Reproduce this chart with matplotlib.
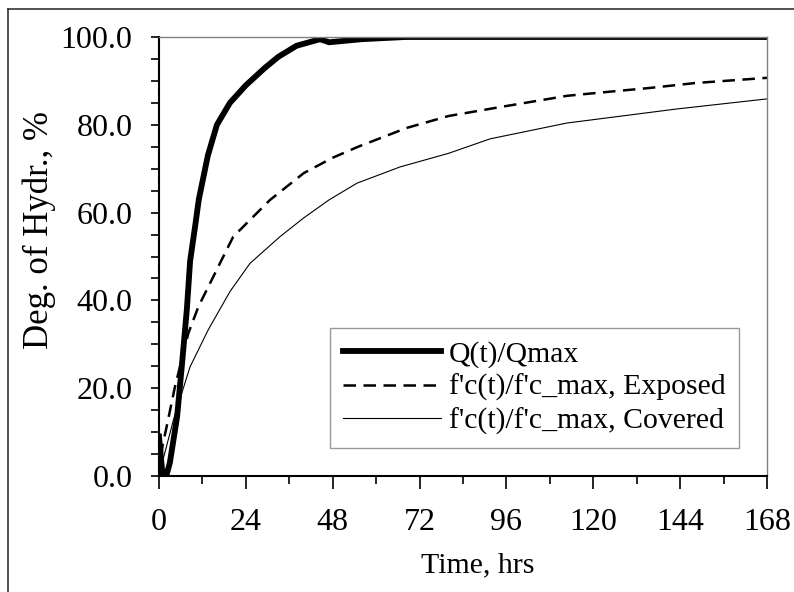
import matplotlib
matplotlib.use("Agg")
import matplotlib.pyplot as plt
from matplotlib.lines import Line2D
from matplotlib.ticker import MultipleLocator, FormatStrFormatter

# Q(t)/Qmax
t_q = [0, 1, 2, 3, 5, 6.3, 7.7, 8.6, 10, 11, 13.5, 16, 19.6, 24, 29.3, 33, 38,
       44.5, 47, 56, 68, 96, 120, 144, 168]
q = [9, 0, 0, 3, 13.5, 25, 38, 49, 57, 63, 73, 80, 85, 89, 93, 95.5, 98,
     99.5, 98.8, 99.5, 100, 100, 100, 100, 100]

# f'c(t)/f'c_max, Exposed
t_exp = [0, 1, 2.1, 4.4, 8.1, 10.9, 15, 20.5, 25.1, 30.7, 40, 48, 55, 68.5,
         80, 94, 112.7, 124, 135.7, 148, 168]
exp = [0, 7, 11.2, 20.3, 32.5, 38.6, 45.4, 54.5, 58.3, 62.9, 69, 72.5, 75,
       79.3, 82, 84, 86.6, 87.5, 88.4, 89.5, 90.7]

# f'c(t)/f'c_max, Covered
t_cov = [0, 1.2, 4, 6.3, 8.6, 13.6, 19.6, 25.1, 33.4, 40, 47, 54.7, 66.6, 80,
         91.5, 112.7, 143, 168]
cov = [0, 4, 12.8, 18.9, 24.9, 33.3, 42, 48.4, 54.5, 58.8, 62.9, 66.7, 70.4,
       73.5, 76.8, 80.4, 83.6, 85.9]

plt.rcParams['font.family'] = ['Liberation Serif', 'DejaVu Serif']

fig = plt.figure(figsize=(7.94, 5.92), dpi=100)
ax = fig.add_axes([159/794, 1 - 476/592, 608/794, 439/592])

ax.plot(t_q, q, color='black', lw=4.2, solid_joinstyle='miter', label='Q(t)/Qmax')
ax.plot(t_exp, exp, color='black', lw=1.8, dashes=(5, 3), label="f'c(t)/f'c_max, Exposed")
ax.plot(t_cov, cov, color='black', lw=0.8, label="f'c(t)/f'c_max, Covered")

ax.set_xlim(0, 168)
ax.set_ylim(0, 100)
ax.xaxis.set_major_locator(MultipleLocator(24))
ax.xaxis.set_minor_locator(MultipleLocator(12))
ax.yaxis.set_major_locator(MultipleLocator(20))
ax.yaxis.set_minor_locator(MultipleLocator(5))
ax.yaxis.set_major_formatter(FormatStrFormatter('%.1f'))

ax.tick_params(which='both', direction='out', width=1.2, labelsize=23)
ax.tick_params(axis='x', which='major', length=9, pad=14)
ax.tick_params(axis='x', which='minor', length=6)
ax.tick_params(axis='y', which='both', length=6, pad=13)

for s in ['top', 'right']:
    ax.spines[s].set_color('#808080')
    ax.spines[s].set_linewidth(1.0)
for s in ['left', 'bottom']:
    ax.spines[s].set_linewidth(1.5)

ax.set_xlabel('Time, hrs', fontsize=21.5)
ax.set_ylabel('Deg. of Hydr., %', fontsize=25)
ax.xaxis.set_label_coords(0.525, -0.175)
ax.yaxis.set_label_coords(-0.17, 0.56)

leg = ax.legend(loc='lower right', bbox_to_anchor=(0.954, 0.064), borderaxespad=0,
                fontsize=21.4, frameon=True, fancybox=False, handlelength=3.3,
                handletextpad=0.27, labelspacing=0.2, borderpad=0.45)
leg.get_frame().set_edgecolor('#808080')
leg.get_frame().set_linewidth(1.0)

# outer chart border
fig.add_artist(Line2D([8/794, 8/794], [0, 1 - 9/592], color='#333333', lw=1.2,
                      transform=fig.transFigure))
fig.add_artist(Line2D([8/794, 1], [1 - 9/592, 1 - 9/592], color='#333333', lw=1.2,
                      transform=fig.transFigure))

fig.savefig('out.png', dpi=100)
